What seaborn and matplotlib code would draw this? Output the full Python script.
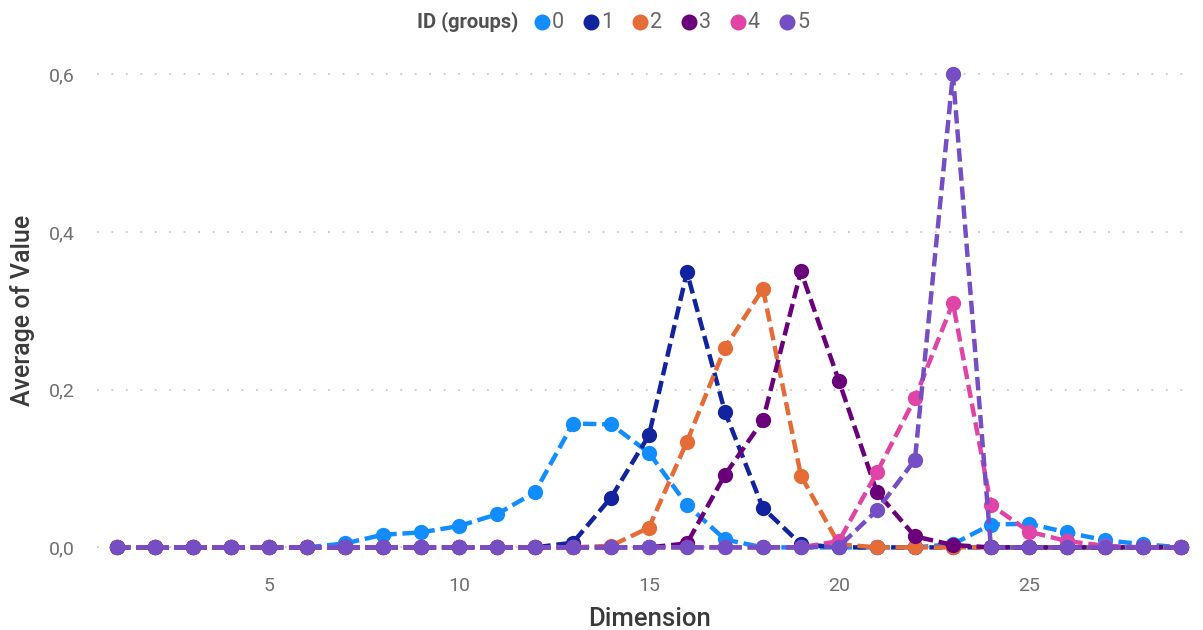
import matplotlib
matplotlib.use("Agg")
import matplotlib.pyplot as plt
from matplotlib.lines import Line2D
from matplotlib.ticker import FuncFormatter
import numpy as np
import pandas as pd
import seaborn as sns

dimension = list(range(1, 30))

id_groups = ["0", "1", "2", "3", "4", "5"]

values_0 = [0, 0, 0, 0, 0, 0, 0.005, 0.016, 0.019, 0.027, 0.042, 0.070, 0.157, 0.156,
            0.120, 0.054, 0.010, 0, 0, 0, 0, 0, 0.004, 0.029, 0.030, 0.019, 0.009, 0.004, 0]
values_1 = [0, 0, 0, 0, 0, 0, 0, 0, 0, 0, 0, 0, 0.006, 0.063, 0.142, 0.349, 0.172, 0.050,
            0.004, 0, 0, 0, 0, 0, 0, 0, 0, 0, 0]
values_2 = [0, 0, 0, 0, 0, 0, 0, 0, 0, 0, 0, 0, 0, 0.002, 0.025, 0.134, 0.253, 0.328,
            0.091, 0.004, 0, 0, 0, 0, 0, 0, 0, 0, 0]
values_3 = [0, 0, 0, 0, 0, 0, 0, 0, 0, 0, 0, 0, 0, 0, 0, 0.005, 0.092, 0.161, 0.350,
            0.211, 0.070, 0.014, 0.003, 0, 0, 0, 0, 0, 0]
values_4 = [0, 0, 0, 0, 0, 0, 0, 0, 0, 0, 0, 0, 0, 0, 0, 0, 0, 0, 0, 0.008, 0.095,
            0.189, 0.310, 0.054, 0.020, 0.008, 0.002, 0, 0]
values_5 = [0, 0, 0, 0, 0, 0, 0, 0, 0, 0, 0, 0, 0, 0, 0, 0, 0, 0, 0, 0.001, 0.047,
            0.111, 0.600, 0, 0, 0, 0, 0, 0]

series = [values_0, values_1, values_2, values_3, values_4, values_5]
colors = ["#118DFF", "#12239E", "#E66C37", "#6B007B", "#E044A7", "#744EC2"]

df = pd.concat(
    [pd.DataFrame({"Dimension": dimension, "Value": v, "ID": g})
     for g, v in zip(id_groups, series)],
    ignore_index=True,
)

sns.set_theme(style="white")
plt.rcParams["font.family"] = ["Roboto", "DejaVu Sans"]

W, H = 1203, 630
fig = plt.figure(figsize=(W / 100, H / 100), dpi=100)
ax = fig.add_axes([97 / W, 1 - 560 / H, (1190 - 97) / W, 500 / H])

sns.lineplot(
    data=df, x="Dimension", y="Value", hue="ID", hue_order=id_groups,
    palette=colors, marker="o", markersize=11, markeredgewidth=0,
    linewidth=3.2, linestyle=(0, (3.0, 1.3)), legend=False, ax=ax,
    estimator=None, sort=True,
)

ax.set_xlim(0.474, 29.24)
ax.set_ylim(-0.016, 0.618)
ax.set_xticks([5, 10, 15, 20, 25])
ax.set_yticks([0.0, 0.2, 0.4, 0.6])
ax.yaxis.set_major_formatter(FuncFormatter(lambda v, p: f"{v:.1f}".replace(".", ",")))

ax.grid(axis="y", color="#C8C8C8", linestyle=(0, (1, 7)), linewidth=1.3)
ax.grid(axis="x", visible=False)
for s in ax.spines.values():
    s.set_visible(False)

ax.tick_params(axis="both", length=0, labelsize=14, colors="#707070")
ax.tick_params(axis="x", pad=12)
ax.tick_params(axis="y", pad=16)
ax.set_xlabel("Dimension", fontsize=18.5, fontweight="medium", color="#3A3A3A", labelpad=8)
ax.xaxis.set_label_coords((650 - 97) / (1190 - 97), -0.095)
ax.set_ylabel("Average of Value", fontsize=18, fontweight="medium", color="#3A3A3A", labelpad=10)

# legend across the top
ly = 1 - 22 / H
fig.text(518 / W, ly, "ID (groups)", fontsize=14.5, fontweight="bold",
         color="#505050", va="center", ha="right")
for i, (g, c) in enumerate(zip(id_groups, colors)):
    mx = (542 + 49 * i) / W
    fig.add_artist(Line2D([mx], [ly], marker="o", markersize=11.5, markeredgewidth=0,
                          markerfacecolor=c, linestyle="none",
                          transform=fig.transFigure))
    fig.text(mx + 10 / W, ly, g, fontsize=15.5, color="#666666",
             va="center", ha="left")

fig.savefig("out.png", dpi=100)
